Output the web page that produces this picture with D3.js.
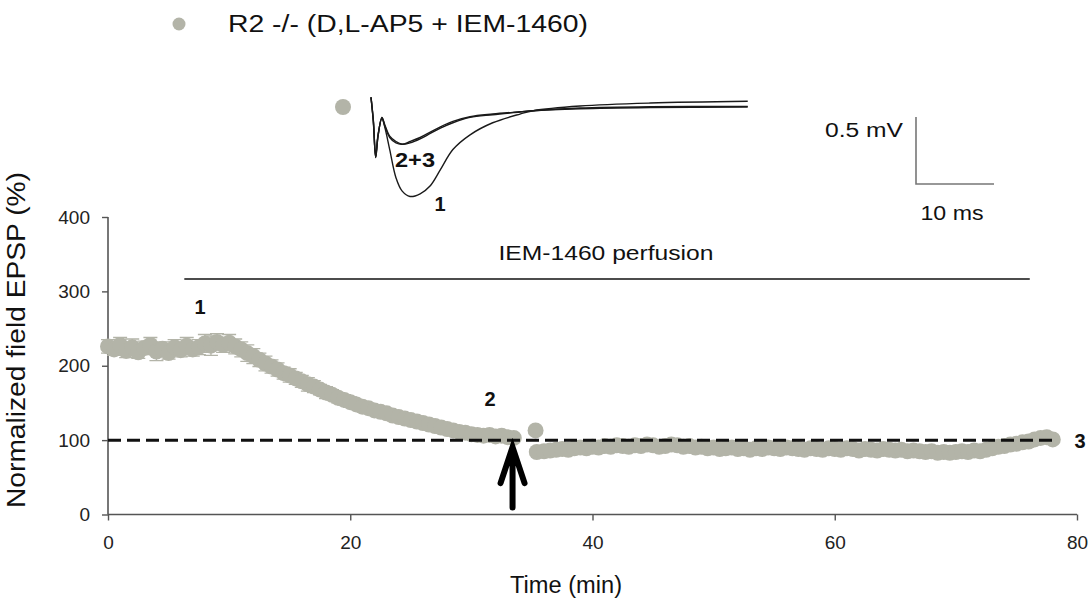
<!DOCTYPE html>
<html><head><meta charset="utf-8">
<script src="https://cdn.jsdelivr.net/npm/d3@7"></script>
<style>
html,body{margin:0;padding:0;background:#fff;}
svg{display:block;font-family:"Liberation Sans",Arial,sans-serif;}
</style></head>
<body><svg id="c" width="1088" height="606"></svg>
<script>
// ---------- DATA ----------
const legendLabel = "R2 -/- (D,L-AP5 + IEM-1460)";
const xTicks = [0, 20, 40, 60, 80];
const yTicks = [0, 100, 200, 300, 400];
const time = [0,0.5,1,1.5,2,2.5,3,3.5,4,4.5,5,5.5,6,6.5,7,7.5,8,8.5,9,9.5,
  10,10.5,11,11.5,12,12.5,13,13.5,14,14.5,15,15.5,16,16.5,17,17.5,18,18.5,19,19.5,
  20,20.5,21,21.5,22,22.5,23,23.5,24,24.5,25,25.5,26,26.5,27,27.5,28,28.5,29,29.5,
  30,30.5,31,31.5,32,32.5,33,33.5,
  35.3,
  35.4,36,36.5,37,37.5,38,38.5,39,39.5,40,40.5,41,41.5,42,42.5,43,43.5,44,44.5,45,
  45.5,46,46.5,47,47.5,48,48.5,49,49.5,50,50.5,51,51.5,52,52.5,53,53.5,54,54.5,55,
  55.5,56,56.5,57,57.5,58,58.5,59,59.5,60,60.5,61,61.5,62,62.5,63,63.5,64,64.5,65,
  65.5,66,66.5,67,67.5,68,68.5,69,69.5,70,70.5,71,71.5,72,72.5,73,73.5,74,74.5,75,
  75.5,76,76.5,77,77.5,78];
const epsp = [226,222,228,220,225,218,224,228,219,223,217,225,221,227,222,225,230,227,232,228,
  231,226,222,217,213,208,203,199,195,190,187,183,179,175,172,168,164,161,157,154,
  151,148,145,143,140,138,136,133,131,129,127,125,123,121,119,117,115,113,111,110,
  108,107,106,107,105,106,104,103,
  113,
  84,85,86,87,88,87,89,90,89,91,90,92,91,93,92,91,93,92,94,93,
  91,92,94,93,91,92,90,91,89,90,88,89,90,88,89,87,89,88,90,89,
  88,90,89,88,87,89,88,87,89,88,87,89,88,86,88,87,86,88,87,86,
  87,85,86,85,84,85,83,84,83,84,85,84,86,85,87,89,91,92,94,95,
  97,98,101,103,104,101];
const sem = [9,8,10,9,11,8,9,10,12,9,8,10,9,11,9,10,12,13,11,10,
  11,10,10,11,10,9,10,9,9,8,9,8,8,9,8,7,8,7,7,7,
  7,6,6,6,6,5,5,5,5,5,4,4,4,4,4,4,4,4,4,3,
  3,3,3,3,3,3,3,3,
  3,
  4,3,3,4,3,3,3,4,3,3,3,3,4,3,3,3,3,4,3,3,
  3,3,3,4,3,3,3,3,3,3,4,3,3,3,3,3,4,3,3,3,
  3,3,4,3,3,3,3,3,4,3,3,3,3,3,4,3,3,3,3,4,
  3,3,3,3,4,3,3,3,3,3,4,3,3,3,3,4,3,3,4,3,
  3,4,3,4,3,3];
// Inset EPSP traces (ms, mV)
const traceTime = [0,0.3,0.6,0.9,1.4,1.8,2.4,3.2,4.0,5.0,6.3,7.6,8.9,10.5,12.7,15.6,19.1,20.8,26.8,35.8,48.3];
const trace1 = [0.05,-0.13,-0.40,-0.24,-0.10,-0.18,-0.34,-0.55,-0.65,-0.69,-0.67,-0.61,-0.49,-0.34,-0.23,-0.14,-0.075,-0.05,-0.015,0.007,0.02];
const trace2 = [0.05,-0.12,-0.40,-0.24,-0.10,-0.16,-0.24,-0.28,-0.30,-0.29,-0.26,-0.22,-0.18,-0.14,-0.10,-0.08,-0.06,-0.05,-0.035,-0.026,-0.022];
const trace3 = [0.05,-0.13,-0.39,-0.23,-0.11,-0.17,-0.25,-0.29,-0.30,-0.28,-0.25,-0.21,-0.17,-0.13,-0.095,-0.075,-0.058,-0.05,-0.03,-0.02,-0.018];
const perfusion = {start: 6.3, end: 76.1, label: "IEM-1460 perfusion"};
const arrowTime = 33.4;
const baselineValue = 100;
const dashEnd = 78;
const scaleBarMs = 10, scaleBarMv = 0.5;

// ---------- SETUP ----------
const svg = d3.select("#c");
const grey = "#b3b4a8";
const x = d3.scaleLinear().domain([0, 80]).range([108, 1077]);
const y = d3.scaleLinear().domain([0, 400]).range([514.5, 217]);

function txt(xp, yp, s, o) {
  const t = svg.append("text").attr("x", xp).attr("y", yp).text(s)
    .attr("font-size", o.size).attr("fill", o.fill || "#111")
    .attr("text-anchor", o.anchor || "start")
    .attr("font-weight", o.bold ? "bold" : "normal");
  if (o.len) t.attr("textLength", o.len).attr("lengthAdjust", "spacingAndGlyphs");
  if (o.rot) t.attr("transform", `rotate(${o.rot},${xp},${yp})`);
  return t;
}

// legend
svg.append("circle").attr("cx", 179).attr("cy", 24).attr("r", 6.5).attr("fill", grey);
txt(228, 32, legendLabel, {size: 23, len: 360});

// axes
const yAxis = svg.append("g").attr("transform", `translate(${x(0)},0)`)
  .call(d3.axisLeft(y).tickValues(yTicks).tickSize(6).tickPadding(12));
const xAxis = svg.append("g").attr("transform", `translate(0,${y(0)})`)
  .call(d3.axisBottom(x).tickValues(xTicks).tickSize(6).tickPadding(15));
[yAxis, xAxis].forEach(g => {
  g.select(".domain").attr("stroke", "#555").attr("stroke-width", 1.6);
  g.selectAll(".tick line").attr("stroke", "#555").attr("stroke-width", 1.4);
  g.selectAll(".tick text").attr("font-size", 19).attr("fill", "#222")
    .attr("font-family", "'Liberation Sans',Arial,sans-serif");
});
yAxis.select(".domain").attr("d", `M0,${y(400)}V${y(0)}`);
xAxis.select(".domain").attr("d", `M${x(0)},0H${x(80)}`);

txt(25, 340, "Normalized field EPSP (%)", {size: 26, anchor: "middle", rot: -90, len: 336});
txt(566, 593, "Time (min)", {size: 23, anchor: "middle", len: 112});

// perfusion bar
svg.append("line").attr("x1", x(perfusion.start)).attr("x2", x(perfusion.end))
  .attr("y1", 279).attr("y2", 279).attr("stroke", "#111").attr("stroke-width", 1.6);
txt(606, 260, perfusion.label, {size: 20, anchor: "middle", len: 215});

// data
const pts = time.map((t, i) => ({t, v: epsp[i], e: sem[i]}));
const eb = svg.append("g").attr("stroke", grey).attr("stroke-width", 1.3);
eb.selectAll("path").data(pts).join("path")
  .attr("d", d => `M${x(d.t)},${y(d.v - d.e)}V${y(d.v + d.e)}M${x(d.t)-7},${y(d.v + d.e)}h14M${x(d.t)-7},${y(d.v - d.e)}h14`);
svg.append("g").selectAll("circle").data(pts).join("circle")
  .attr("cx", d => x(d.t)).attr("cy", d => y(d.v)).attr("r", 8).attr("fill", grey);

// baseline dashed
svg.append("line").attr("x1", x(0)).attr("x2", x(dashEnd))
  .attr("y1", y(baselineValue)).attr("y2", y(baselineValue))
  .attr("stroke", "#111").attr("stroke-width", 3).attr("stroke-dasharray", "13,6");

// arrow
const ax = x(arrowTime), tip = y(baselineValue) + 5;
svg.append("path").attr("d", `M${ax},${y(0) - 7}V${tip + 4}M${ax - 12},${tip + 38}L${ax},${tip + 2}L${ax + 12},${tip + 38}`)
  .attr("fill", "none").attr("stroke", "#000").attr("stroke-width", 6)
  .attr("stroke-linecap", "round").attr("stroke-linejoin", "miter");

// numbered labels
txt(200, 314, "1", {size: 20, bold: true, anchor: "middle"});
txt(490, 406, "2", {size: 20, bold: true, anchor: "middle"});
txt(1080, 448, "3", {size: 20, bold: true, anchor: "middle"});

// ---------- INSET ----------
const ix = d3.scaleLinear().domain([0, 10]).range([371, 449]);
const iy = d3.scaleLinear().domain([0, -0.5]).range([104, 171]);
svg.append("circle").attr("cx", 343).attr("cy", 107).attr("r", 8).attr("fill", grey);
const line = d3.line().x((d, i) => ix(traceTime[i])).y(d => iy(d)).curve(d3.curveCatmullRom.alpha(0.5));
[trace2, trace3, trace1].forEach(tr => {
  svg.append("path").attr("d", line(tr)).attr("fill", "none")
    .attr("stroke", "#1a1a1a").attr("stroke-width", 1.4);
});
txt(415, 167, "2+3", {size: 20, bold: true, anchor: "middle", len: 40});
txt(440, 211, "1", {size: 20, bold: true, anchor: "middle"});

// scale bar
const sbx = 916, sby = 184;
const sbW = ix(scaleBarMs) - ix(0), sbH = iy(-scaleBarMv) - iy(0);
svg.append("path").attr("d", `M${sbx},${sby - sbH}V${sby}H${sbx + sbW}`)
  .attr("fill", "none").attr("stroke", "#777").attr("stroke-width", 1.6);
txt(903, 137, "0.5 mV", {size: 20, anchor: "end", len: 78});
txt(952, 220, "10 ms", {size: 20, anchor: "middle", len: 63});
</script></body></html>
